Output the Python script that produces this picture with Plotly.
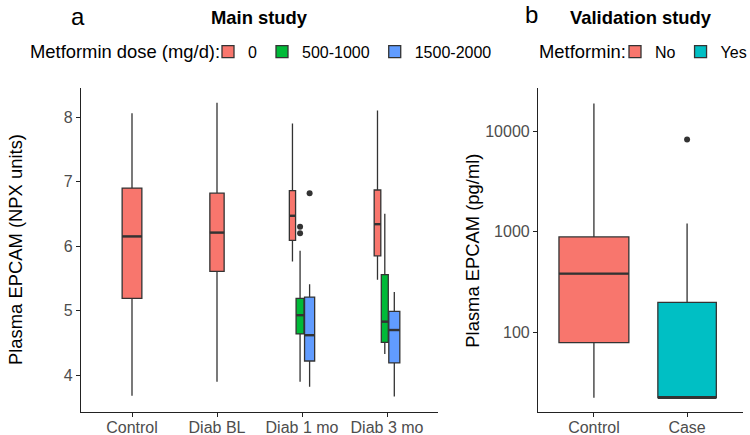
import plotly.graph_objects as go
import numpy as np

# ---------------- data: main study (panel a) ----------------
categories_a = ["Control", "Diab BL", "Diab 1 mo", "Diab 3 mo"]
dose_groups = ["0", "500-1000", "1500-2000"]
# one entry per (category, dose group) box
box_cat = ["Control", "Diab BL", "Diab 1 mo", "Diab 1 mo", "Diab 1 mo", "Diab 3 mo", "Diab 3 mo", "Diab 3 mo"]
box_dose = ["0", "0", "0", "500-1000", "1500-2000", "0", "500-1000", "1500-2000"]
box_n = [80, 42, 8, 13, 21, 9, 10, 25]
box_low = [3.68, 3.90, 5.76, 3.90, 3.82, 5.48, 4.33, 3.67]
box_q1 = [5.19, 5.61, 6.09, 4.64, 4.22, 5.85, 4.51, 4.19]
box_med = [6.15, 6.21, 6.47, 4.93, 4.62, 6.34, 4.83, 4.70]
box_q3 = [6.90, 6.82, 6.86, 5.19, 5.21, 6.87, 5.56, 4.99]
box_high = [8.06, 8.22, 7.90, 5.93, 5.41, 8.10, 6.50, 5.29]
box_out = [[], [], [], [6.30, 6.20], [6.82], [], [], []]

# ---------------- data: validation study (panel b) ----------------
categories_b = ["Control", "Case"]
met_groups = ["No", "Yes"]
val_n = [30, 21]
val_low = [22.5, 22.5]
val_q1 = [79.5, 22.5]
val_med = [385, 22.5]
val_q3 = [891, 199]
val_high = [18900, 1213]
val_out = [[], [8260]]

# ---------------- styling ----------------
dose_colors = {"0": "#F8766D", "500-1000": "#00BA38", "1500-2000": "#619CFF"}
met_colors = {"No": "#F8766D", "Yes": "#00BFC4"}
EDGE = "#333333"
FONT = "Liberation Sans, Arial, sans-serif"
W_A = 0.232   # width of widest box in panel a (dodged)
W_B = 0.75    # width of widest box in panel b
GAP = 0.006
W, H = 750, 435
TITLE_SIZE = 18.4
TEXT_SIZE = 16

fig = go.Figure()

def add_box(xpos, w, lo, q1, med, q3, hi, outs, color, name, legend, show, xa, ya):
    fig.add_trace(go.Box(
        x=[xpos], q1=[q1], median=[med], q3=[q3], lowerfence=[lo], upperfence=[hi],
        width=w, fillcolor=color, line=dict(color=EDGE, width=1.3), whiskerwidth=0,
        boxpoints=False, name=name, legendgroup=legend + name, showlegend=show,
        legend=legend, xaxis=xa, yaxis=ya, hoverinfo="skip"))
    fig.add_trace(go.Scatter(
        x=[xpos - w / 2, xpos + w / 2], y=[med, med], mode="lines",
        line=dict(color=EDGE, width=2.4), showlegend=False, xaxis=xa, yaxis=ya,
        hoverinfo="skip"))
    if outs:
        fig.add_trace(go.Scatter(
            x=[xpos] * len(outs), y=outs, mode="markers",
            marker=dict(color=EDGE, size=6), showlegend=False, xaxis=xa, yaxis=ya,
            hoverinfo="skip"))

# panel a: dodge boxes inside each category, width ~ sqrt(n)
max_n = max(box_n)
widths = [W_A * np.sqrt(n / max_n) for n in box_n]
shown = set()
for ci, cat in enumerate(categories_a):
    idx = [i for i, c in enumerate(box_cat) if c == cat]
    idx.sort(key=lambda i: dose_groups.index(box_dose[i]))
    total = sum(widths[i] for i in idx) + GAP * (len(idx) - 1)
    left = (ci + 1) - total / 2
    for i in idx:
        xpos = left + widths[i] / 2
        left += widths[i] + GAP
        d = box_dose[i]
        add_box(xpos, widths[i], box_low[i], box_q1[i], box_med[i], box_q3[i], box_high[i],
                box_out[i], dose_colors[d], d, "legend", d not in shown, "x", "y")
        shown.add(d)

# panel b
max_nb = max(val_n)
for i, cat in enumerate(categories_b):
    w = W_B * np.sqrt(val_n[i] / max_nb)
    g = met_groups[i]
    add_box(i + 1, w, val_low[i], val_q1[i], val_med[i], val_q3[i], val_high[i],
            val_out[i], met_colors[g], g, "legend2", True, "x2", "y2")

axis_common = dict(showline=True, linecolor="#222222", linewidth=1.2, ticks="outside",
                   ticklen=4, tickcolor="#222222", showgrid=False, zeroline=False,
                   tickfont=dict(family=FONT, size=TEXT_SIZE, color="#4D4D4D"))

def px(x, y):
    return x / W, 1 - y / H

def ann(text, x, y, size, **kw):
    xx, yy = px(x, y)
    d = dict(text=text, x=xx, y=yy, xref="paper", yref="paper", showarrow=False,
             font=dict(size=size, family=FONT, color="black"), xanchor="center",
             yanchor="middle")
    d.update(kw)
    return d

fig.update_layout(
    width=W, height=H, margin=dict(l=0, r=0, t=0, b=0, autoexpand=False),
    paper_bgcolor="white", plot_bgcolor="white", boxmode="overlay",
    font=dict(family=FONT, color="black"),
    xaxis=dict(domain=[81 / W, 438 / W], range=[0.4, 4.6],
               tickvals=list(range(1, len(categories_a) + 1)), ticktext=categories_a,
               anchor="y", ticklabelstandoff=-3, **axis_common),
    yaxis=dict(domain=[1 - 412 / H, 1 - 88 / H], range=[3.43, 8.45],
               tickvals=[4, 5, 6, 7, 8], anchor="x", **axis_common),
    xaxis2=dict(domain=[538 / W, 743 / W], range=[0.4, 2.6],
                tickvals=list(range(1, len(categories_b) + 1)), ticktext=categories_b,
                anchor="y2", ticklabelstandoff=-3, **axis_common),
    yaxis2=dict(domain=[1 - 412 / H, 1 - 88 / H], type="log", range=[1.21, 4.43],
                tickvals=[100, 1000, 10000], ticktext=["100", "1000", "10000"], anchor="x2",
                **axis_common),
    legend=dict(orientation="h", x=208 / W, xanchor="left", y=1 - 51.7 / H, yanchor="middle",
                font=dict(size=TEXT_SIZE, family=FONT), bgcolor="rgba(0,0,0,0)",
                traceorder="normal", itemclick=False, tracegroupgap=0),
    legend2=dict(orientation="h", x=615 / W, xanchor="left", y=1 - 51.7 / H, yanchor="middle",
                 font=dict(size=TEXT_SIZE, family=FONT), bgcolor="rgba(0,0,0,0)",
                 traceorder="normal", itemclick=False),
    annotations=[
        ann("a", 77.5, 16, 24),
        ann("b", 531, 14, 24),
        ann("<b>Main study</b>", 259.5, 17, TITLE_SIZE),
        ann("<b>Validation study</b>", 640.5, 17, TITLE_SIZE),
        ann("Metformin dose (mg/d):", 28, 52, TITLE_SIZE, xanchor="left"),
        ann("Metformin:", 537, 52, TITLE_SIZE, xanchor="left"),
        ann("Plasma EPCAM (NPX units)", 16, 250, TITLE_SIZE, textangle=-90),
        ann("Plasma EPCAM (pg/ml)", 471.7, 251, TITLE_SIZE, textangle=-90),
    ],
)

fig.write_html("out.html", config={"displayModeBar": False},
               post_script="document.body.style.margin='0px';")
